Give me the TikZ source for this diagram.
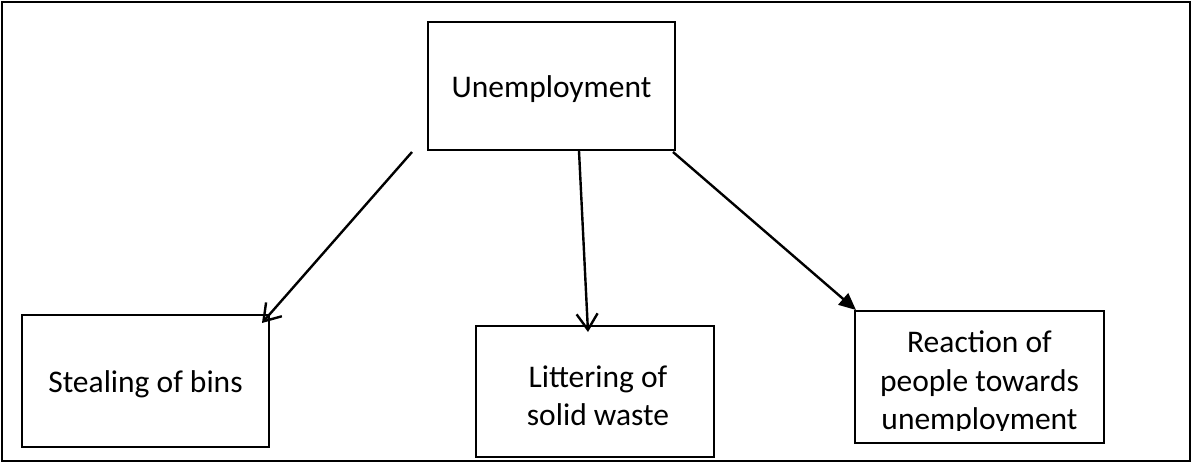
\documentclass[tikz,border=0pt]{standalone}
\usepackage{fontspec}
\setmainfont{Carlito}
\usetikzlibrary{arrows.meta}

\tikzset{
  frameline/.style={line width=2pt, draw=black},
  box/.style={draw=black, line width=2.6pt, inner sep=0pt},
  label/.style={align=center, inner sep=0pt,
    font=\fontsize{31.5}{38.5}\selectfont},
  openarrow/.style={line width=2.4pt, -{Straight Barb[length=16pt,width=21pt,line width=2.4pt]}},
  solidarrow/.style={line width=2.4pt, -{Triangle[length=17pt,width=15pt]}},
}

\begin{document}
\begin{tikzpicture}[x=1pt,y=-1pt]
  \useasboundingbox (0,0) rectangle (1192,464);

  % outer frame
  \draw[frameline] (2,2) rectangle (1190,461);

  % cause
  \node[box, minimum width=247pt, minimum height=128pt] (unemp) at (551.5,86) {};
  \node[label] (unemptext) at (551.5,89) {Unemployment};

  % effects
  \node[box, minimum width=247pt, minimum height=132pt] (steal) at (145.5,381) {};
  \node[label] (stealtext) at (145.5,384) {Stealing of bins};
  \node[box, minimum width=238pt, minimum height=131pt] (litter) at (595,391.5) {};
  \node[label] (littertext) at (598,396) {Littering of\\solid waste};
  \node[box, minimum width=249pt, minimum height=132pt] (react) at (979.5,377) {};
  \begin{scope}
    \clip (react.north west) rectangle ([yshift=14pt]react.south east);
    \node[label] (reacttext) at (979.5,383) {Reaction of\\people towards\\unemployment};
  \end{scope}

  % arrow ends
  \coordinate (s1) at (412,152);
  \coordinate (t1) at (262,323);
  \coordinate (s2) at (579,151);
  \coordinate (t2) at (588,332);
  \coordinate (s3) at (673,152);
  \coordinate (t3) at (856,310);

  \draw[openarrow] (s1) -- (t1);
  \draw[openarrow] (s2) -- (t2);
  \draw[solidarrow] (s3) -- (t3);
\end{tikzpicture}
\end{document}
